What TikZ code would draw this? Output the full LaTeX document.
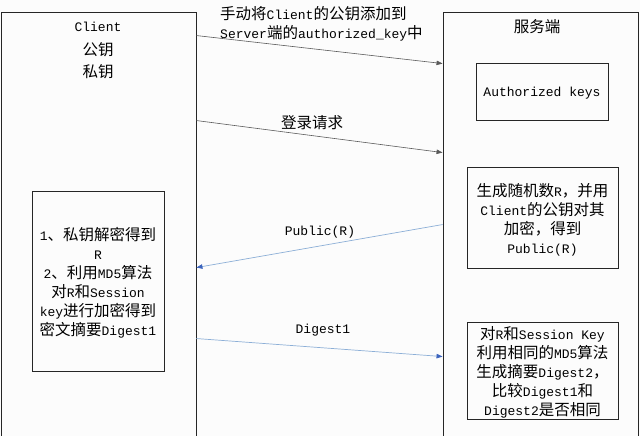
\documentclass[tikz,border=0pt]{standalone}
\usepackage{fontspec}
\setmainfont{Liberation Mono}
\newfontfamily\cjk{Noto Sans CJK SC}
\usetikzlibrary{arrows.meta}
\newcommand{\zh}[1]{{\cjk\fontsize{15.5pt}{19pt}\selectfont #1}}
\definecolor{bluearr}{RGB}{140,175,215}
\definecolor{bluetip}{RGB}{60,100,190}
\definecolor{greyarr}{RGB}{90,90,90}
\tikzset{
  outerbox/.style={draw=black!85, line width=0.9pt, inner sep=0pt},
  innerbox/.style={draw=black!85, line width=0.9pt, inner sep=0pt},
  txt/.style={font=\fontsize{13pt}{19pt}\selectfont, align=center, inner sep=0pt},
  arrgrey/.style={draw=greyarr, line width=0.6pt, -{Triangle[length=6pt,width=4.5pt]}},
  arrblue/.style={draw=bluearr, line width=0.7pt, -{Triangle[length=6pt,width=4.5pt,color=bluetip]}},
}
\begin{document}
\begin{tikzpicture}[x=1pt,y=-1pt]
\clip (0,0) rectangle (640,436);
\fill[white!99!black] (0,0) rectangle (640,436);
% outer boxes
\node[outerbox, minimum width=195pt, minimum height=448pt] (client) at (98.5,236) {};
\node[outerbox, minimum width=195pt, minimum height=448pt] (server) at (540.5,236) {};
% client labels
\node[txt] (clientname) at (98,27) {Client};
\node[txt] (pub) at (98,50) {\zh{公钥}};
\node[txt] (priv) at (98,72) {\zh{私钥}};
% server label
\node[txt] (servername) at (537,27) {\zh{服务端}};
% inner boxes
\node[innerbox, minimum width=132pt, minimum height=57pt] (auth) at (542,91.5) {};
\node[txt] (authtxt) at (542,93) {Authorized keys};
\node[innerbox, minimum width=151pt, minimum height=101pt] (boxr) at (542.5,217.5) {};
\node[txt] (boxrtxt) at (542.5,220) {\zh{生成随机数}R\zh{，并用}\\Client\zh{的公钥对其}\\\zh{加密，得到}\\Public(R)};
\node[innerbox, minimum width=132pt, minimum height=180pt] (boxc) at (98,281) {};
\node[txt] (boxctxt) at (98,283) {1\zh{、私钥解密得到}\\R\\2\zh{、利用}MD5\zh{算法}\\\zh{对}R\zh{和}Session\\key\zh{进行加密得到}\\\zh{密文摘要}Digest1};
\node[innerbox, minimum width=151pt, minimum height=97pt] (boxd) at (542.5,370.5) {};
\node[txt] (boxdtxt) at (542.5,372) {\zh{对}R\zh{和}Session Key\\\zh{利用相同的}MD5\zh{算法}\\\zh{生成摘要}Digest2\zh{，}\\\zh{比较}Digest1\zh{和}\\Digest2\zh{是否相同}};
% arrow labels
\node[txt, align=left, anchor=west] (lab1) at (220,23.5) {\zh{手动将}Client\zh{的公钥添加到}\\Server\zh{端的}authorized\_key\zh{中}};
\node[txt] (lab2) at (312,123) {\zh{登录请求}};
\node[txt] (lab3) at (320,232) {Public(R)};
\node[txt] (lab4) at (323,330) {Digest1};
% connectors
\draw[arrgrey] ([yshift=-24pt]client.north east) -- ([yshift=-52pt]server.north west);
\draw[arrgrey] ([yshift=-109pt]client.north east) -- ([yshift=-141pt]server.north west);
\draw[arrblue] ([yshift=-213pt]server.north west) -- ([yshift=-256pt]client.north east);
\draw[arrblue] ([yshift=-327pt]client.north east) -- ([yshift=-345pt]server.north west);
\end{tikzpicture}
\end{document}
